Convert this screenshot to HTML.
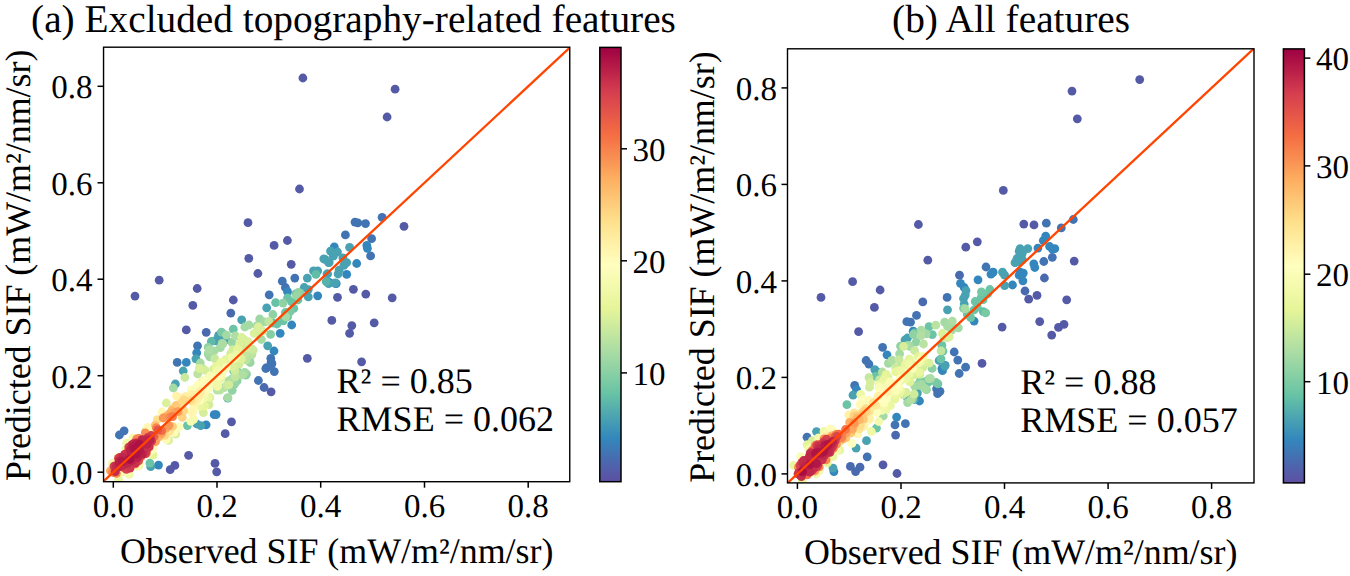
<!DOCTYPE html>
<html><head><meta charset="utf-8"><style>
html,body{margin:0;padding:0;background:#fff;width:1350px;height:576px;overflow:hidden}
svg{position:absolute;left:0;top:0}
text{font-family:"Liberation Serif",serif;fill:#000;text-rendering:geometricPrecision;-webkit-font-smoothing:antialiased}
</style></head><body>
<svg width="1350" height="576" viewBox="0 0 1350 576">
<defs>

<linearGradient id="cg" x1="0" y1="0" x2="0" y2="1"><stop offset="0.00" stop-color="#9e0142"/><stop offset="0.05" stop-color="#b81e48"/><stop offset="0.10" stop-color="#d43d4f"/><stop offset="0.15" stop-color="#e45549"/><stop offset="0.20" stop-color="#f46d43"/><stop offset="0.25" stop-color="#f88c51"/><stop offset="0.30" stop-color="#fdad60"/><stop offset="0.35" stop-color="#fdc776"/><stop offset="0.40" stop-color="#fee08b"/><stop offset="0.45" stop-color="#fff0a6"/><stop offset="0.50" stop-color="#fffebe"/><stop offset="0.55" stop-color="#f3faac"/><stop offset="0.60" stop-color="#e6f598"/><stop offset="0.65" stop-color="#c8e99e"/><stop offset="0.70" stop-color="#aadca4"/><stop offset="0.75" stop-color="#89d0a4"/><stop offset="0.80" stop-color="#66c2a5"/><stop offset="0.85" stop-color="#4ba4b1"/><stop offset="0.90" stop-color="#3387bc"/><stop offset="0.95" stop-color="#496aaf"/><stop offset="1.00" stop-color="#5e4fa2"/></linearGradient>
<clipPath id="clipa"><rect x="103.55" y="47.2" width="466.2" height="434.5"/></clipPath>
<clipPath id="clipb"><rect x="787.5" y="48.8" width="466.5" height="434.1"/></clipPath>
</defs>
<g clip-path="url(#clipa)">
<circle cx="302.9" cy="78.0" r="4.4" fill="#555aa7"/>
<circle cx="395.1" cy="89.2" r="4.4" fill="#555aa7"/>
<circle cx="387.1" cy="117.0" r="4.4" fill="#555aa7"/>
<circle cx="299.5" cy="189.0" r="4.4" fill="#555aa7"/>
<circle cx="248.0" cy="222.7" r="4.4" fill="#555aa7"/>
<circle cx="274.1" cy="245.4" r="4.4" fill="#555aa7"/>
<circle cx="287.4" cy="240.5" r="4.4" fill="#555aa7"/>
<circle cx="248.8" cy="258.3" r="4.4" fill="#555aa7"/>
<circle cx="291.2" cy="264.3" r="4.4" fill="#555aa7"/>
<circle cx="404.0" cy="226.3" r="4.4" fill="#555aa7"/>
<circle cx="353.4" cy="289.3" r="4.4" fill="#555aa7"/>
<circle cx="365.8" cy="294.1" r="4.4" fill="#555aa7"/>
<circle cx="337.5" cy="297.3" r="4.4" fill="#555aa7"/>
<circle cx="392.2" cy="297.8" r="4.4" fill="#555aa7"/>
<circle cx="331.8" cy="320.4" r="4.4" fill="#555aa7"/>
<circle cx="351.8" cy="325.6" r="4.4" fill="#555aa7"/>
<circle cx="349.6" cy="333.3" r="4.4" fill="#555aa7"/>
<circle cx="374.2" cy="322.8" r="4.4" fill="#555aa7"/>
<circle cx="361.6" cy="361.8" r="4.4" fill="#555aa7"/>
<circle cx="257.9" cy="273.5" r="4.4" fill="#555aa7"/>
<circle cx="233.3" cy="300.0" r="4.4" fill="#555aa7"/>
<circle cx="307.3" cy="358.3" r="4.4" fill="#555aa7"/>
<circle cx="135.0" cy="296.1" r="4.4" fill="#555aa7"/>
<circle cx="159.2" cy="280.2" r="4.4" fill="#555aa7"/>
<circle cx="197.2" cy="288.5" r="4.4" fill="#555aa7"/>
<circle cx="192.8" cy="305.4" r="4.4" fill="#555aa7"/>
<circle cx="186.3" cy="329.9" r="4.4" fill="#555aa7"/>
<circle cx="271.1" cy="391.8" r="4.4" fill="#555aa7"/>
<circle cx="231.5" cy="421.8" r="4.4" fill="#555aa7"/>
<circle cx="225.2" cy="433.7" r="4.4" fill="#555aa7"/>
<circle cx="215.0" cy="463.4" r="4.4" fill="#555aa7"/>
<circle cx="216.7" cy="471.8" r="4.4" fill="#555aa7"/>
<circle cx="170.2" cy="469.7" r="4.4" fill="#555aa7"/>
<circle cx="174.9" cy="465.4" r="4.4" fill="#555aa7"/>
<circle cx="188.6" cy="455.3" r="4.4" fill="#555aa7"/>
<circle cx="230.8" cy="313.1" r="4.4" fill="#496aaf"/>
<circle cx="206.2" cy="332.3" r="4.4" fill="#496aaf"/>
<circle cx="264.1" cy="387.5" r="4.4" fill="#496aaf"/>
<circle cx="382.1" cy="217.3" r="4.4" fill="#4273b3"/>
<circle cx="355.0" cy="222.1" r="4.4" fill="#4273b3"/>
<circle cx="357.8" cy="222.8" r="4.4" fill="#4273b3"/>
<circle cx="365.5" cy="223.6" r="4.4" fill="#4273b3"/>
<circle cx="345.4" cy="234.9" r="4.4" fill="#4273b3"/>
<circle cx="371.6" cy="238.7" r="4.4" fill="#4273b3"/>
<circle cx="370.6" cy="255.9" r="4.4" fill="#4273b3"/>
<circle cx="294.8" cy="278.1" r="4.4" fill="#4273b3"/>
<circle cx="282.3" cy="281.2" r="4.4" fill="#4273b3"/>
<circle cx="285.4" cy="287.5" r="4.4" fill="#4273b3"/>
<circle cx="269.2" cy="294.8" r="4.4" fill="#4273b3"/>
<circle cx="270.8" cy="358.3" r="4.4" fill="#4273b3"/>
<circle cx="271.9" cy="363.5" r="4.4" fill="#4273b3"/>
<circle cx="266.7" cy="367.7" r="4.4" fill="#4273b3"/>
<circle cx="197.5" cy="345.8" r="4.4" fill="#4273b3"/>
<circle cx="177.2" cy="362.4" r="4.4" fill="#4273b3"/>
<circle cx="271.1" cy="362.1" r="4.4" fill="#4273b3"/>
<circle cx="265.8" cy="368.5" r="4.4" fill="#4273b3"/>
<circle cx="274.3" cy="371.6" r="4.4" fill="#4273b3"/>
<circle cx="271.1" cy="365.3" r="4.4" fill="#4273b3"/>
<circle cx="258.4" cy="380.5" r="4.4" fill="#4273b3"/>
<circle cx="119.4" cy="435.0" r="4.4" fill="#4273b3"/>
<circle cx="124.1" cy="430.8" r="4.4" fill="#4273b3"/>
<circle cx="366.8" cy="245.4" r="4.4" fill="#3387bc"/>
<circle cx="367.4" cy="248.3" r="4.4" fill="#3387bc"/>
<circle cx="334.3" cy="246.9" r="4.4" fill="#3387bc"/>
<circle cx="356.7" cy="263.5" r="4.4" fill="#3387bc"/>
<circle cx="346.7" cy="274.4" r="4.4" fill="#3387bc"/>
<circle cx="336.2" cy="283.6" r="4.4" fill="#3387bc"/>
<circle cx="287.5" cy="291.7" r="4.4" fill="#3387bc"/>
<circle cx="329.2" cy="282.3" r="4.4" fill="#3387bc"/>
<circle cx="335.4" cy="283.3" r="4.4" fill="#3387bc"/>
<circle cx="317.7" cy="295.8" r="4.4" fill="#3387bc"/>
<circle cx="291.7" cy="325.0" r="4.4" fill="#3387bc"/>
<circle cx="280.2" cy="333.3" r="4.4" fill="#3387bc"/>
<circle cx="221.9" cy="333.3" r="4.4" fill="#3387bc"/>
<circle cx="218.8" cy="335.4" r="4.4" fill="#3387bc"/>
<circle cx="274.0" cy="351.0" r="4.4" fill="#3387bc"/>
<circle cx="196.7" cy="352.8" r="4.4" fill="#3387bc"/>
<circle cx="186.3" cy="362.4" r="4.4" fill="#3387bc"/>
<circle cx="216.1" cy="414.6" r="4.4" fill="#3387bc"/>
<circle cx="158.5" cy="465.1" r="4.4" fill="#3387bc"/>
<circle cx="206.1" cy="424.8" r="4.4" fill="#3387bc"/>
<circle cx="214.2" cy="414.7" r="4.4" fill="#3387bc"/>
<circle cx="330.5" cy="251.1" r="4.4" fill="#49a2b2"/>
<circle cx="349.6" cy="247.3" r="4.4" fill="#49a2b2"/>
<circle cx="323.8" cy="258.8" r="4.4" fill="#49a2b2"/>
<circle cx="328.6" cy="262.6" r="4.4" fill="#49a2b2"/>
<circle cx="342.9" cy="257.8" r="4.4" fill="#49a2b2"/>
<circle cx="346.7" cy="262.6" r="4.4" fill="#49a2b2"/>
<circle cx="343.9" cy="265.4" r="4.4" fill="#49a2b2"/>
<circle cx="339.1" cy="270.2" r="4.4" fill="#49a2b2"/>
<circle cx="338.1" cy="274.0" r="4.4" fill="#49a2b2"/>
<circle cx="327.6" cy="274.0" r="4.4" fill="#49a2b2"/>
<circle cx="328.6" cy="283.6" r="4.4" fill="#49a2b2"/>
<circle cx="335.3" cy="282.8" r="4.4" fill="#49a2b2"/>
<circle cx="266.7" cy="307.9" r="4.4" fill="#49a2b2"/>
<circle cx="307.3" cy="278.1" r="4.4" fill="#49a2b2"/>
<circle cx="313.5" cy="270.8" r="4.4" fill="#49a2b2"/>
<circle cx="317.7" cy="270.8" r="4.4" fill="#49a2b2"/>
<circle cx="325.0" cy="259.4" r="4.4" fill="#49a2b2"/>
<circle cx="329.2" cy="262.5" r="4.4" fill="#49a2b2"/>
<circle cx="333.3" cy="256.2" r="4.4" fill="#49a2b2"/>
<circle cx="337.5" cy="252.0" r="4.4" fill="#49a2b2"/>
<circle cx="327.0" cy="274.0" r="4.4" fill="#49a2b2"/>
<circle cx="304.2" cy="287.5" r="4.4" fill="#49a2b2"/>
<circle cx="308.3" cy="289.6" r="4.4" fill="#49a2b2"/>
<circle cx="308.3" cy="296.9" r="4.4" fill="#49a2b2"/>
<circle cx="241.7" cy="319.8" r="4.4" fill="#49a2b2"/>
<circle cx="215.6" cy="340.6" r="4.4" fill="#49a2b2"/>
<circle cx="226.0" cy="339.6" r="4.4" fill="#49a2b2"/>
<circle cx="267.7" cy="345.8" r="4.4" fill="#49a2b2"/>
<circle cx="195.9" cy="358.8" r="4.4" fill="#49a2b2"/>
<circle cx="183.2" cy="371.0" r="4.4" fill="#49a2b2"/>
<circle cx="175.4" cy="384.0" r="4.4" fill="#49a2b2"/>
<circle cx="218.8" cy="335.9" r="4.4" fill="#49a2b2"/>
<circle cx="217.5" cy="341.1" r="4.4" fill="#49a2b2"/>
<circle cx="221.4" cy="333.3" r="4.4" fill="#49a2b2"/>
<circle cx="227.7" cy="398.1" r="4.4" fill="#49a2b2"/>
<circle cx="150.7" cy="466.7" r="4.4" fill="#49a2b2"/>
<circle cx="196.8" cy="424.0" r="4.4" fill="#49a2b2"/>
<circle cx="200.7" cy="425.6" r="4.4" fill="#49a2b2"/>
<circle cx="326.2" cy="281.6" r="4.4" fill="#58b2ac"/>
<circle cx="211.3" cy="341.5" r="4.4" fill="#5eb9a9"/>
<circle cx="315.9" cy="274.4" r="4.4" fill="#62bda7"/>
<circle cx="275.6" cy="302.6" r="4.4" fill="#66c2a5"/>
<circle cx="295.8" cy="293.8" r="4.4" fill="#6bc4a5"/>
<circle cx="297.9" cy="300.0" r="4.4" fill="#6bc4a5"/>
<circle cx="291.7" cy="302.0" r="4.4" fill="#6bc4a5"/>
<circle cx="293.8" cy="308.3" r="4.4" fill="#6bc4a5"/>
<circle cx="287.5" cy="298.0" r="4.4" fill="#6bc4a5"/>
<circle cx="285.4" cy="312.5" r="4.4" fill="#6bc4a5"/>
<circle cx="287.5" cy="316.7" r="4.4" fill="#6bc4a5"/>
<circle cx="283.3" cy="320.8" r="4.4" fill="#6bc4a5"/>
<circle cx="277.0" cy="324.0" r="4.4" fill="#6bc4a5"/>
<circle cx="273.0" cy="323.0" r="4.4" fill="#6bc4a5"/>
<circle cx="233.3" cy="329.2" r="4.4" fill="#6bc4a5"/>
<circle cx="208.4" cy="354.1" r="4.4" fill="#6bc4a5"/>
<circle cx="149.9" cy="463.1" r="4.4" fill="#6bc4a5"/>
<circle cx="187.4" cy="425.6" r="4.4" fill="#6bc4a5"/>
<circle cx="221.5" cy="332.1" r="4.4" fill="#7ccaa5"/>
<circle cx="290.0" cy="311.7" r="4.4" fill="#7ccaa5"/>
<circle cx="234.2" cy="384.5" r="4.4" fill="#7ecca5"/>
<circle cx="233.6" cy="370.9" r="4.4" fill="#81cda5"/>
<circle cx="245.7" cy="375.1" r="4.4" fill="#84cea5"/>
<circle cx="270.6" cy="334.4" r="4.4" fill="#86cfa5"/>
<circle cx="300.1" cy="293.1" r="4.4" fill="#89d0a4"/>
<circle cx="246.5" cy="374.1" r="4.4" fill="#8fd2a4"/>
<circle cx="208.2" cy="347.3" r="4.4" fill="#8fd2a4"/>
<circle cx="272.9" cy="314.5" r="4.4" fill="#8fd2a4"/>
<circle cx="283.0" cy="303.1" r="4.4" fill="#8fd2a4"/>
<circle cx="233.4" cy="384.4" r="4.4" fill="#8fd2a4"/>
<circle cx="245.5" cy="374.0" r="4.4" fill="#91d3a4"/>
<circle cx="236.7" cy="370.0" r="4.4" fill="#91d3a4"/>
<circle cx="298.4" cy="292.4" r="4.4" fill="#91d3a4"/>
<circle cx="237.1" cy="380.9" r="4.4" fill="#91d3a4"/>
<circle cx="232.2" cy="390.3" r="4.4" fill="#91d3a4"/>
<circle cx="232.0" cy="342.3" r="4.4" fill="#97d5a4"/>
<circle cx="234.9" cy="383.2" r="4.4" fill="#97d5a4"/>
<circle cx="296.6" cy="295.7" r="4.4" fill="#99d6a4"/>
<circle cx="250.2" cy="362.5" r="4.4" fill="#99d6a4"/>
<circle cx="210.7" cy="352.7" r="4.4" fill="#99d6a4"/>
<circle cx="249.4" cy="359.8" r="4.4" fill="#9cd7a4"/>
<circle cx="259.7" cy="319.0" r="4.4" fill="#9cd7a4"/>
<circle cx="209.8" cy="356.8" r="4.4" fill="#9fd8a4"/>
<circle cx="226.5" cy="335.1" r="4.4" fill="#a2d9a4"/>
<circle cx="211.4" cy="352.7" r="4.4" fill="#a2d9a4"/>
<circle cx="264.6" cy="321.9" r="4.4" fill="#a4daa4"/>
<circle cx="249.0" cy="325.0" r="4.4" fill="#a4daa4"/>
<circle cx="244.8" cy="327.0" r="4.4" fill="#a4daa4"/>
<circle cx="208.3" cy="353.1" r="4.4" fill="#a4daa4"/>
<circle cx="173.3" cy="388.0" r="4.4" fill="#a4daa4"/>
<circle cx="244.6" cy="372.3" r="4.4" fill="#a4daa4"/>
<circle cx="237.3" cy="374.0" r="4.4" fill="#a4daa4"/>
<circle cx="285.8" cy="316.8" r="4.4" fill="#a4daa4"/>
<circle cx="220.3" cy="347.7" r="4.4" fill="#a4daa4"/>
<circle cx="214.1" cy="350.9" r="4.4" fill="#a7dba4"/>
<circle cx="261.4" cy="339.5" r="4.4" fill="#a7dba4"/>
<circle cx="200.3" cy="363.0" r="4.4" fill="#a7dba4"/>
<circle cx="227.9" cy="397.7" r="4.4" fill="#a7dba4"/>
<circle cx="257.0" cy="325.7" r="4.4" fill="#a7dba4"/>
<circle cx="222.1" cy="343.4" r="4.4" fill="#a7dba4"/>
<circle cx="258.8" cy="326.2" r="4.4" fill="#aadca4"/>
<circle cx="228.9" cy="380.8" r="4.4" fill="#aadca4"/>
<circle cx="222.8" cy="343.8" r="4.4" fill="#aadca4"/>
<circle cx="209.2" cy="349.8" r="4.4" fill="#acdda4"/>
<circle cx="241.0" cy="338.3" r="4.4" fill="#aedea3"/>
<circle cx="231.9" cy="378.8" r="4.4" fill="#b1dfa3"/>
<circle cx="235.4" cy="335.9" r="4.4" fill="#b1dfa3"/>
<circle cx="242.5" cy="375.0" r="4.4" fill="#b1dfa3"/>
<circle cx="224.0" cy="387.7" r="4.4" fill="#b5e1a2"/>
<circle cx="220.1" cy="390.0" r="4.4" fill="#bae3a1"/>
<circle cx="217.3" cy="390.2" r="4.4" fill="#bae3a1"/>
<circle cx="246.2" cy="360.0" r="4.4" fill="#bce4a0"/>
<circle cx="197.7" cy="373.8" r="4.4" fill="#bce4a0"/>
<circle cx="251.9" cy="354.6" r="4.4" fill="#bce4a0"/>
<circle cx="235.3" cy="376.9" r="4.4" fill="#c1e6a0"/>
<circle cx="258.6" cy="333.0" r="4.4" fill="#c1e6a0"/>
<circle cx="268.8" cy="321.3" r="4.4" fill="#c1e6a0"/>
<circle cx="202.6" cy="368.6" r="4.4" fill="#c3e79f"/>
<circle cx="253.1" cy="350.3" r="4.4" fill="#c3e79f"/>
<circle cx="245.2" cy="352.7" r="4.4" fill="#c3e79f"/>
<circle cx="214.7" cy="358.7" r="4.4" fill="#c6e89f"/>
<circle cx="227.0" cy="385.1" r="4.4" fill="#c8e99e"/>
<circle cx="243.5" cy="339.4" r="4.4" fill="#c8e99e"/>
<circle cx="184.8" cy="377.5" r="4.4" fill="#c8e99e"/>
<circle cx="252.0" cy="348.8" r="4.4" fill="#cdeb9d"/>
<circle cx="235.1" cy="350.1" r="4.4" fill="#cfec9d"/>
<circle cx="235.0" cy="370.9" r="4.4" fill="#cfec9d"/>
<circle cx="228.9" cy="384.8" r="4.4" fill="#d1ed9c"/>
<circle cx="232.8" cy="349.7" r="4.4" fill="#d1ed9c"/>
<circle cx="209.0" cy="404.7" r="4.4" fill="#d3ed9c"/>
<circle cx="246.3" cy="347.6" r="4.4" fill="#d3ed9c"/>
<circle cx="239.1" cy="364.2" r="4.4" fill="#d3ed9c"/>
<circle cx="205.2" cy="370.4" r="4.4" fill="#d6ee9b"/>
<circle cx="230.6" cy="353.7" r="4.4" fill="#d6ee9b"/>
<circle cx="203.4" cy="412.7" r="4.4" fill="#d6ee9b"/>
<circle cx="213.7" cy="369.1" r="4.4" fill="#d6ee9b"/>
<circle cx="239.2" cy="357.3" r="4.4" fill="#d6ee9b"/>
<circle cx="209.8" cy="397.5" r="4.4" fill="#d8ef9b"/>
<circle cx="232.9" cy="366.8" r="4.4" fill="#daf09a"/>
<circle cx="216.4" cy="385.7" r="4.4" fill="#daf09a"/>
<circle cx="258.3" cy="327.0" r="4.4" fill="#daf09a"/>
<circle cx="254.2" cy="333.3" r="4.4" fill="#daf09a"/>
<circle cx="262.5" cy="331.2" r="4.4" fill="#daf09a"/>
<circle cx="241.7" cy="337.5" r="4.4" fill="#daf09a"/>
<circle cx="239.6" cy="343.8" r="4.4" fill="#daf09a"/>
<circle cx="248.0" cy="341.7" r="4.4" fill="#daf09a"/>
<circle cx="199.3" cy="368.4" r="4.4" fill="#daf09a"/>
<circle cx="166.3" cy="403.0" r="4.4" fill="#daf09a"/>
<circle cx="175.7" cy="434.2" r="4.4" fill="#daf09a"/>
<circle cx="168.6" cy="440.4" r="4.4" fill="#daf09a"/>
<circle cx="241.3" cy="359.0" r="4.4" fill="#dff299"/>
<circle cx="145.6" cy="430.9" r="4.4" fill="#dff299"/>
<circle cx="216.0" cy="369.5" r="4.4" fill="#e1f399"/>
<circle cx="225.7" cy="359.7" r="4.4" fill="#e4f498"/>
<circle cx="153.2" cy="455.1" r="4.4" fill="#e4f498"/>
<circle cx="139.0" cy="465.6" r="4.4" fill="#e7f59a"/>
<circle cx="237.5" cy="349.5" r="4.4" fill="#e7f59a"/>
<circle cx="204.5" cy="406.0" r="4.4" fill="#e8f69b"/>
<circle cx="216.1" cy="368.6" r="4.4" fill="#e8f69b"/>
<circle cx="217.3" cy="384.6" r="4.4" fill="#e8f69b"/>
<circle cx="222.0" cy="366.1" r="4.4" fill="#e8f69b"/>
<circle cx="217.5" cy="379.0" r="4.4" fill="#e8f69b"/>
<circle cx="220.6" cy="378.3" r="4.4" fill="#e9f69d"/>
<circle cx="223.0" cy="362.3" r="4.4" fill="#e9f69d"/>
<circle cx="217.4" cy="386.5" r="4.4" fill="#e9f69d"/>
<circle cx="215.9" cy="366.6" r="4.4" fill="#e9f69d"/>
<circle cx="217.1" cy="378.0" r="4.4" fill="#eaf79e"/>
<circle cx="220.6" cy="362.6" r="4.4" fill="#eaf79e"/>
<circle cx="199.6" cy="406.5" r="4.4" fill="#ebf7a0"/>
<circle cx="208.4" cy="397.1" r="4.4" fill="#ecf7a1"/>
<circle cx="122.6" cy="471.9" r="4.4" fill="#ecf7a1"/>
<circle cx="232.1" cy="358.2" r="4.4" fill="#ecf7a1"/>
<circle cx="118.7" cy="479.4" r="4.4" fill="#ecf7a1"/>
<circle cx="236.2" cy="356.0" r="4.4" fill="#edf8a3"/>
<circle cx="215.4" cy="382.0" r="4.4" fill="#eef8a4"/>
<circle cx="236.2" cy="355.1" r="4.4" fill="#eef8a4"/>
<circle cx="125.8" cy="449.4" r="4.4" fill="#eef8a4"/>
<circle cx="126.7" cy="443.3" r="4.4" fill="#eff9a6"/>
<circle cx="217.9" cy="370.0" r="4.4" fill="#eff9a6"/>
<circle cx="129.8" cy="443.5" r="4.4" fill="#eff9a6"/>
<circle cx="234.5" cy="358.3" r="4.4" fill="#eff9a6"/>
<circle cx="125.0" cy="471.9" r="4.4" fill="#eff9a6"/>
<circle cx="152.9" cy="429.6" r="4.4" fill="#eff9a6"/>
<circle cx="127.3" cy="443.1" r="4.4" fill="#eff9a6"/>
<circle cx="152.9" cy="446.7" r="4.4" fill="#eff9a6"/>
<circle cx="113.9" cy="466.7" r="4.4" fill="#f0f9a7"/>
<circle cx="231.9" cy="357.4" r="4.4" fill="#f0f9a7"/>
<circle cx="202.2" cy="381.0" r="4.4" fill="#f0f9a7"/>
<circle cx="149.2" cy="434.4" r="4.4" fill="#f0f9a7"/>
<circle cx="217.6" cy="385.6" r="4.4" fill="#f1f9a9"/>
<circle cx="129.3" cy="474.3" r="4.4" fill="#f1f9a9"/>
<circle cx="112.5" cy="463.9" r="4.4" fill="#f1f9a9"/>
<circle cx="130.0" cy="466.7" r="4.4" fill="#f2faaa"/>
<circle cx="116.8" cy="463.7" r="4.4" fill="#f2faaa"/>
<circle cx="209.8" cy="376.0" r="4.4" fill="#f2faaa"/>
<circle cx="112.5" cy="463.5" r="4.4" fill="#f2faaa"/>
<circle cx="221.3" cy="375.7" r="4.4" fill="#f2faaa"/>
<circle cx="126.8" cy="468.0" r="4.4" fill="#f2faaa"/>
<circle cx="132.1" cy="443.6" r="4.4" fill="#f2faaa"/>
<circle cx="203.8" cy="397.9" r="4.4" fill="#f2faaa"/>
<circle cx="216.4" cy="373.2" r="4.4" fill="#f3faac"/>
<circle cx="205.9" cy="380.6" r="4.4" fill="#f3faac"/>
<circle cx="137.4" cy="442.8" r="4.4" fill="#f3faac"/>
<circle cx="120.0" cy="471.5" r="4.4" fill="#f4faad"/>
<circle cx="210.2" cy="381.1" r="4.4" fill="#f4faad"/>
<circle cx="190.8" cy="421.3" r="4.4" fill="#f6fbb0"/>
<circle cx="193.6" cy="419.3" r="4.4" fill="#f6fbb0"/>
<circle cx="132.9" cy="437.8" r="4.4" fill="#f6fbb0"/>
<circle cx="125.9" cy="452.7" r="4.4" fill="#f6fbb0"/>
<circle cx="139.3" cy="463.3" r="4.4" fill="#f6fbb0"/>
<circle cx="137.5" cy="460.0" r="4.4" fill="#f6fbb0"/>
<circle cx="215.6" cy="376.1" r="4.4" fill="#f7fcb2"/>
<circle cx="207.3" cy="389.2" r="4.4" fill="#f7fcb2"/>
<circle cx="136.5" cy="438.5" r="4.4" fill="#f7fcb2"/>
<circle cx="119.8" cy="460.8" r="4.4" fill="#f7fcb2"/>
<circle cx="140.8" cy="454.7" r="4.4" fill="#f8fcb4"/>
<circle cx="137.0" cy="466.4" r="4.4" fill="#f8fcb4"/>
<circle cx="135.5" cy="461.8" r="4.4" fill="#f8fcb4"/>
<circle cx="222.2" cy="372.5" r="4.4" fill="#f8fcb4"/>
<circle cx="210.1" cy="376.5" r="4.4" fill="#f9fcb5"/>
<circle cx="226.0" cy="367.9" r="4.4" fill="#f9fcb5"/>
<circle cx="127.3" cy="471.2" r="4.4" fill="#f9fcb5"/>
<circle cx="219.0" cy="376.9" r="4.4" fill="#f9fcb5"/>
<circle cx="148.1" cy="453.6" r="4.4" fill="#f9fcb5"/>
<circle cx="132.6" cy="444.5" r="4.4" fill="#f9fcb5"/>
<circle cx="204.5" cy="392.5" r="4.4" fill="#f9fcb5"/>
<circle cx="118.2" cy="456.8" r="4.4" fill="#f9fcb5"/>
<circle cx="120.8" cy="470.1" r="4.4" fill="#fafdb7"/>
<circle cx="208.1" cy="388.2" r="4.4" fill="#fafdb7"/>
<circle cx="194.1" cy="410.6" r="4.4" fill="#fafdb7"/>
<circle cx="191.1" cy="389.9" r="4.4" fill="#fbfdb8"/>
<circle cx="122.4" cy="461.3" r="4.4" fill="#fbfdb8"/>
<circle cx="198.2" cy="387.1" r="4.4" fill="#fcfeba"/>
<circle cx="196.5" cy="387.7" r="4.4" fill="#fcfeba"/>
<circle cx="124.9" cy="463.9" r="4.4" fill="#fcfeba"/>
<circle cx="197.8" cy="385.2" r="4.4" fill="#fcfeba"/>
<circle cx="129.9" cy="450.9" r="4.4" fill="#fcfeba"/>
<circle cx="208.4" cy="385.2" r="4.4" fill="#fdfebb"/>
<circle cx="127.9" cy="461.9" r="4.4" fill="#fdfebb"/>
<circle cx="199.7" cy="400.3" r="4.4" fill="#fdfebb"/>
<circle cx="205.7" cy="387.3" r="4.4" fill="#fdfebb"/>
<circle cx="152.3" cy="449.5" r="4.4" fill="#fefebd"/>
<circle cx="125.8" cy="468.8" r="4.4" fill="#fefebd"/>
<circle cx="126.0" cy="455.2" r="4.4" fill="#fefebd"/>
<circle cx="204.2" cy="381.3" r="4.4" fill="#fefebd"/>
<circle cx="129.9" cy="452.3" r="4.4" fill="#ffffbe"/>
<circle cx="143.7" cy="449.9" r="4.4" fill="#ffffbe"/>
<circle cx="141.4" cy="454.1" r="4.4" fill="#ffffbe"/>
<circle cx="130.0" cy="456.8" r="4.4" fill="#ffffbe"/>
<circle cx="129.7" cy="456.3" r="4.4" fill="#fffebe"/>
<circle cx="201.3" cy="386.0" r="4.4" fill="#fffdbc"/>
<circle cx="203.3" cy="386.3" r="4.4" fill="#fffdbc"/>
<circle cx="192.1" cy="410.8" r="4.4" fill="#fffdbc"/>
<circle cx="174.0" cy="432.2" r="4.4" fill="#fffcba"/>
<circle cx="196.5" cy="399.8" r="4.4" fill="#fffcba"/>
<circle cx="178.9" cy="426.9" r="4.4" fill="#fffbb8"/>
<circle cx="166.2" cy="439.3" r="4.4" fill="#fffab6"/>
<circle cx="152.3" cy="447.4" r="4.4" fill="#fffab6"/>
<circle cx="207.1" cy="383.6" r="4.4" fill="#fffab6"/>
<circle cx="134.7" cy="457.3" r="4.4" fill="#fffab6"/>
<circle cx="131.2" cy="457.3" r="4.4" fill="#fff8b4"/>
<circle cx="133.3" cy="453.8" r="4.4" fill="#fff7b2"/>
<circle cx="194.2" cy="403.0" r="4.4" fill="#fff7b2"/>
<circle cx="147.5" cy="427.5" r="4.4" fill="#fff7b2"/>
<circle cx="162.0" cy="412.0" r="4.4" fill="#fff7b2"/>
<circle cx="192.1" cy="413.0" r="4.4" fill="#fff6b0"/>
<circle cx="202.0" cy="389.5" r="4.4" fill="#fff6b0"/>
<circle cx="193.7" cy="406.0" r="4.4" fill="#fff6b0"/>
<circle cx="196.1" cy="401.3" r="4.4" fill="#fff5ae"/>
<circle cx="126.5" cy="464.1" r="4.4" fill="#fff5ae"/>
<circle cx="200.7" cy="394.3" r="4.4" fill="#fff5ae"/>
<circle cx="181.0" cy="398.0" r="4.4" fill="#fff5ae"/>
<circle cx="176.5" cy="396.1" r="4.4" fill="#fff3ac"/>
<circle cx="196.0" cy="396.8" r="4.4" fill="#fff2aa"/>
<circle cx="197.4" cy="393.8" r="4.4" fill="#fff1a8"/>
<circle cx="191.5" cy="394.6" r="4.4" fill="#fff1a8"/>
<circle cx="185.6" cy="396.5" r="4.4" fill="#fff0a6"/>
<circle cx="194.6" cy="401.3" r="4.4" fill="#fff0a6"/>
<circle cx="198.1" cy="397.8" r="4.4" fill="#fff0a6"/>
<circle cx="192.4" cy="400.7" r="4.4" fill="#feefa3"/>
<circle cx="200.2" cy="392.1" r="4.4" fill="#feeda1"/>
<circle cx="194.3" cy="397.5" r="4.4" fill="#feec9f"/>
<circle cx="182.1" cy="401.9" r="4.4" fill="#fee999"/>
<circle cx="144.1" cy="445.9" r="4.4" fill="#fee797"/>
<circle cx="169.4" cy="431.4" r="4.4" fill="#fee491"/>
<circle cx="191.0" cy="400.5" r="4.4" fill="#fee08b"/>
<circle cx="157.3" cy="419.6" r="4.4" fill="#fee08b"/>
<circle cx="181.3" cy="403.2" r="4.4" fill="#fede89"/>
<circle cx="178.0" cy="405.0" r="4.4" fill="#fedc88"/>
<circle cx="164.8" cy="435.4" r="4.4" fill="#feda86"/>
<circle cx="183.9" cy="399.8" r="4.4" fill="#feda86"/>
<circle cx="183.8" cy="410.7" r="4.4" fill="#fed884"/>
<circle cx="173.0" cy="408.7" r="4.4" fill="#fed27f"/>
<circle cx="182.3" cy="417.4" r="4.4" fill="#fed27f"/>
<circle cx="172.5" cy="426.5" r="4.4" fill="#fed07e"/>
<circle cx="175.9" cy="405.5" r="4.4" fill="#feca79"/>
<circle cx="143.8" cy="442.0" r="4.4" fill="#fec877"/>
<circle cx="148.2" cy="443.6" r="4.4" fill="#fec877"/>
<circle cx="155.2" cy="425.1" r="4.4" fill="#fec877"/>
<circle cx="146.9" cy="442.9" r="4.4" fill="#fdc372"/>
<circle cx="145.3" cy="437.0" r="4.4" fill="#fdbf6f"/>
<circle cx="145.2" cy="441.0" r="4.4" fill="#fdb96a"/>
<circle cx="145.4" cy="439.0" r="4.4" fill="#fdb96a"/>
<circle cx="171.8" cy="410.7" r="4.4" fill="#fdb96a"/>
<circle cx="159.0" cy="436.8" r="4.4" fill="#fdb768"/>
<circle cx="166.5" cy="416.4" r="4.4" fill="#fdb768"/>
<circle cx="169.2" cy="414.0" r="4.4" fill="#fdb365"/>
<circle cx="110.4" cy="470.9" r="4.4" fill="#fdad60"/>
<circle cx="165.6" cy="417.4" r="4.4" fill="#fcaa5f"/>
<circle cx="165.7" cy="428.4" r="4.4" fill="#fca85e"/>
<circle cx="174.8" cy="412.4" r="4.4" fill="#fca55d"/>
<circle cx="155.5" cy="441.7" r="4.4" fill="#fba05b"/>
<circle cx="161.5" cy="433.7" r="4.4" fill="#fba05b"/>
<circle cx="148.5" cy="436.9" r="4.4" fill="#fa9b58"/>
<circle cx="178.1" cy="411.7" r="4.4" fill="#fa9b58"/>
<circle cx="169.0" cy="417.5" r="4.4" fill="#fa9b58"/>
<circle cx="169.0" cy="425.6" r="4.4" fill="#fa9857"/>
<circle cx="163.1" cy="418.0" r="4.4" fill="#fa9857"/>
<circle cx="154.7" cy="436.0" r="4.4" fill="#f98e52"/>
<circle cx="145.3" cy="432.8" r="4.4" fill="#f98e52"/>
<circle cx="136.7" cy="438.9" r="4.4" fill="#f88c51"/>
<circle cx="170.0" cy="417.0" r="4.4" fill="#f88c51"/>
<circle cx="112.4" cy="472.1" r="4.4" fill="#f88c51"/>
<circle cx="116.4" cy="473.3" r="4.4" fill="#f88950"/>
<circle cx="156.3" cy="427.7" r="4.4" fill="#f8864f"/>
<circle cx="139.0" cy="438.3" r="4.4" fill="#f7844e"/>
<circle cx="172.6" cy="416.7" r="4.4" fill="#f67c4a"/>
<circle cx="114.1" cy="472.7" r="4.4" fill="#f57748"/>
<circle cx="146.3" cy="453.5" r="4.4" fill="#f57547"/>
<circle cx="146.0" cy="452.2" r="4.4" fill="#f57245"/>
<circle cx="135.4" cy="463.8" r="4.4" fill="#f46d43"/>
<circle cx="148.5" cy="443.3" r="4.4" fill="#f46d43"/>
<circle cx="161.6" cy="430.7" r="4.4" fill="#f36b43"/>
<circle cx="148.8" cy="444.4" r="4.4" fill="#f26944"/>
<circle cx="145.6" cy="450.2" r="4.4" fill="#f26944"/>
<circle cx="140.9" cy="456.9" r="4.4" fill="#f06744"/>
<circle cx="116.4" cy="465.3" r="4.4" fill="#ef6645"/>
<circle cx="127.3" cy="452.2" r="4.4" fill="#ef6645"/>
<circle cx="142.9" cy="441.7" r="4.4" fill="#ed6246"/>
<circle cx="121.8" cy="459.6" r="4.4" fill="#ed6246"/>
<circle cx="153.8" cy="436.5" r="4.4" fill="#eb6046"/>
<circle cx="145.3" cy="443.0" r="4.4" fill="#ea5e47"/>
<circle cx="123.4" cy="467.3" r="4.4" fill="#e75948"/>
<circle cx="128.0" cy="455.5" r="4.4" fill="#e75948"/>
<circle cx="157.8" cy="429.9" r="4.4" fill="#e45549"/>
<circle cx="134.4" cy="457.5" r="4.4" fill="#e45549"/>
<circle cx="132.4" cy="461.1" r="4.4" fill="#e3534a"/>
<circle cx="141.0" cy="443.1" r="4.4" fill="#e3534a"/>
<circle cx="121.7" cy="464.3" r="4.4" fill="#e1504b"/>
<circle cx="128.9" cy="461.7" r="4.4" fill="#df4e4b"/>
<circle cx="138.6" cy="460.9" r="4.4" fill="#dd4a4c"/>
<circle cx="125.0" cy="459.8" r="4.4" fill="#dd4a4c"/>
<circle cx="134.8" cy="448.5" r="4.4" fill="#da464d"/>
<circle cx="118.4" cy="458.3" r="4.4" fill="#d9444d"/>
<circle cx="126.4" cy="469.4" r="4.4" fill="#d8434e"/>
<circle cx="150.2" cy="439.5" r="4.4" fill="#d8434e"/>
<circle cx="145.2" cy="452.9" r="4.4" fill="#d7414e"/>
<circle cx="151.2" cy="435.5" r="4.4" fill="#d63f4f"/>
<circle cx="128.8" cy="447.1" r="4.4" fill="#d43d4f"/>
<circle cx="145.3" cy="453.6" r="4.4" fill="#d43d4f"/>
<circle cx="147.6" cy="437.5" r="4.4" fill="#d43d4f"/>
<circle cx="131.7" cy="462.9" r="4.4" fill="#d23a4e"/>
<circle cx="114.0" cy="466.2" r="4.4" fill="#d23a4e"/>
<circle cx="119.6" cy="457.5" r="4.4" fill="#d23a4e"/>
<circle cx="134.2" cy="445.1" r="4.4" fill="#d23a4e"/>
<circle cx="146.1" cy="450.8" r="4.4" fill="#d0384e"/>
<circle cx="151.6" cy="441.1" r="4.4" fill="#d0384e"/>
<circle cx="147.4" cy="439.9" r="4.4" fill="#d0384e"/>
<circle cx="134.5" cy="442.8" r="4.4" fill="#d0384e"/>
<circle cx="146.7" cy="449.2" r="4.4" fill="#d0384e"/>
<circle cx="130.1" cy="468.1" r="4.4" fill="#d0384e"/>
<circle cx="132.8" cy="444.3" r="4.4" fill="#cd364d"/>
<circle cx="149.3" cy="446.8" r="4.4" fill="#cb334d"/>
<circle cx="135.1" cy="463.1" r="4.4" fill="#cb334d"/>
<circle cx="135.3" cy="462.6" r="4.4" fill="#c9314c"/>
<circle cx="124.6" cy="454.3" r="4.4" fill="#c9314c"/>
<circle cx="139.6" cy="448.7" r="4.4" fill="#c72e4c"/>
<circle cx="136.3" cy="457.0" r="4.4" fill="#c72e4c"/>
<circle cx="143.9" cy="449.6" r="4.4" fill="#c72e4c"/>
<circle cx="127.3" cy="462.0" r="4.4" fill="#c72e4c"/>
<circle cx="148.0" cy="438.9" r="4.4" fill="#c72e4c"/>
<circle cx="132.6" cy="444.6" r="4.4" fill="#c52c4b"/>
<circle cx="116.4" cy="465.8" r="4.4" fill="#c52c4b"/>
<circle cx="115.3" cy="471.7" r="4.4" fill="#c52c4b"/>
<circle cx="121.8" cy="461.6" r="4.4" fill="#c52c4b"/>
<circle cx="122.1" cy="466.1" r="4.4" fill="#c52c4b"/>
<circle cx="142.1" cy="439.6" r="4.4" fill="#c32a4b"/>
<circle cx="131.9" cy="444.8" r="4.4" fill="#c32a4b"/>
<circle cx="123.2" cy="464.7" r="4.4" fill="#c32a4b"/>
<circle cx="146.3" cy="441.2" r="4.4" fill="#c32a4b"/>
<circle cx="118.7" cy="466.8" r="4.4" fill="#c32a4b"/>
<circle cx="124.6" cy="458.2" r="4.4" fill="#c32a4b"/>
<circle cx="118.8" cy="466.1" r="4.4" fill="#c1274a"/>
<circle cx="142.1" cy="440.4" r="4.4" fill="#c1274a"/>
<circle cx="122.7" cy="457.3" r="4.4" fill="#c1274a"/>
<circle cx="145.7" cy="440.8" r="4.4" fill="#be254a"/>
<circle cx="138.0" cy="442.9" r="4.4" fill="#be254a"/>
<circle cx="123.1" cy="460.1" r="4.4" fill="#be254a"/>
<circle cx="125.1" cy="460.2" r="4.4" fill="#be254a"/>
<circle cx="143.5" cy="440.8" r="4.4" fill="#be254a"/>
<circle cx="132.2" cy="460.5" r="4.4" fill="#be254a"/>
<circle cx="127.5" cy="463.4" r="4.4" fill="#be254a"/>
<circle cx="138.2" cy="455.1" r="4.4" fill="#bc2249"/>
<circle cx="147.0" cy="444.4" r="4.4" fill="#bc2249"/>
<circle cx="130.1" cy="450.0" r="4.4" fill="#bc2249"/>
<circle cx="150.1" cy="439.8" r="4.4" fill="#bc2249"/>
<circle cx="119.3" cy="461.4" r="4.4" fill="#ba2049"/>
<circle cx="131.5" cy="453.3" r="4.4" fill="#ba2049"/>
<circle cx="142.1" cy="454.3" r="4.4" fill="#ba2049"/>
<circle cx="137.7" cy="457.5" r="4.4" fill="#ba2049"/>
<circle cx="133.7" cy="448.8" r="4.4" fill="#ba2049"/>
<circle cx="137.4" cy="449.5" r="4.4" fill="#b81e48"/>
<circle cx="135.7" cy="444.0" r="4.4" fill="#b81e48"/>
<circle cx="119.2" cy="463.1" r="4.4" fill="#b81e48"/>
<circle cx="139.6" cy="450.4" r="4.4" fill="#b41947"/>
<circle cx="133.0" cy="446.3" r="4.4" fill="#b41947"/>
<circle cx="122.7" cy="461.5" r="4.4" fill="#b11747"/>
<circle cx="134.2" cy="449.1" r="4.4" fill="#af1446"/>
<circle cx="135.3" cy="448.5" r="4.4" fill="#ad1246"/>
<circle cx="136.4" cy="454.1" r="4.4" fill="#ad1246"/>
<circle cx="139.6" cy="444.1" r="4.4" fill="#ad1246"/>
<circle cx="129.9" cy="459.4" r="4.4" fill="#a90d45"/>
<line x1="103.55" y1="481.3" x2="569.8" y2="47.6" stroke="#ff4500" stroke-width="2.3"/>
</g>
<rect x="103.55" y="47.2" width="466.2" height="434.5" fill="none" stroke="#000" stroke-width="1.4"/>
<line x1="113.3" y1="481.7" x2="113.3" y2="487.7" stroke="#000" stroke-width="1.5"/>
<line x1="97.5" y1="472.2" x2="103.55" y2="472.2" stroke="#000" stroke-width="1.5"/>
<text x="113.3" y="516.6" font-size="33" text-anchor="middle">0.0</text>
<text x="92.5" y="484.2" font-size="33" text-anchor="end">0.0</text>
<line x1="217.0" y1="481.7" x2="217.0" y2="487.7" stroke="#000" stroke-width="1.5"/>
<line x1="97.5" y1="375.7" x2="103.55" y2="375.7" stroke="#000" stroke-width="1.5"/>
<text x="217.0" y="516.6" font-size="33" text-anchor="middle">0.2</text>
<text x="92.5" y="387.7" font-size="33" text-anchor="end">0.2</text>
<line x1="320.7" y1="481.7" x2="320.7" y2="487.7" stroke="#000" stroke-width="1.5"/>
<line x1="97.5" y1="279.2" x2="103.55" y2="279.2" stroke="#000" stroke-width="1.5"/>
<text x="320.7" y="516.6" font-size="33" text-anchor="middle">0.4</text>
<text x="92.5" y="291.2" font-size="33" text-anchor="end">0.4</text>
<line x1="424.5" y1="481.7" x2="424.5" y2="487.7" stroke="#000" stroke-width="1.5"/>
<line x1="97.5" y1="182.8" x2="103.55" y2="182.8" stroke="#000" stroke-width="1.5"/>
<text x="424.5" y="516.6" font-size="33" text-anchor="middle">0.6</text>
<text x="92.5" y="194.8" font-size="33" text-anchor="end">0.6</text>
<line x1="528.2" y1="481.7" x2="528.2" y2="487.7" stroke="#000" stroke-width="1.5"/>
<line x1="97.5" y1="86.3" x2="103.55" y2="86.3" stroke="#000" stroke-width="1.5"/>
<text x="528.2" y="516.6" font-size="33" text-anchor="middle">0.8</text>
<text x="92.5" y="98.3" font-size="33" text-anchor="end">0.8</text>
<text x="120.0" y="562.8" font-size="35.9">Observed SIF (mW/m²/nm/sr)</text>
<text transform="translate(29.8,481.0) rotate(-90)" font-size="35.9">Predicted SIF (mW/m²/nm/sr)</text>
<text x="31.1" y="31.5" font-size="39.3">(a) Excluded topography-related features</text>
<text x="336.6" y="393.0" font-size="36">R² = 0.85</text>
<text x="336.6" y="430.6" font-size="36">RMSE = 0.062</text>
<rect x="599.8" y="47.4" width="21.2" height="434.3" fill="url(#cg)" stroke="#000" stroke-width="1.5"/>
<line x1="621.0" y1="372.9" x2="627.0" y2="372.9" stroke="#000" stroke-width="1.5"/>
<text x="632.5" y="384.9" font-size="33">10</text>
<line x1="621.0" y1="260.8" x2="627.0" y2="260.8" stroke="#000" stroke-width="1.5"/>
<text x="632.5" y="272.8" font-size="33">20</text>
<line x1="621.0" y1="148.8" x2="627.0" y2="148.8" stroke="#000" stroke-width="1.5"/>
<text x="632.5" y="160.8" font-size="33">30</text>
<g clip-path="url(#clipb)">
<circle cx="1139.7" cy="79.6" r="4.4" fill="#555aa7"/>
<circle cx="1072.0" cy="91.1" r="4.4" fill="#555aa7"/>
<circle cx="1077.3" cy="118.8" r="4.4" fill="#555aa7"/>
<circle cx="1003.3" cy="190.4" r="4.4" fill="#555aa7"/>
<circle cx="1023.8" cy="224.1" r="4.4" fill="#555aa7"/>
<circle cx="1034.0" cy="224.9" r="4.4" fill="#555aa7"/>
<circle cx="965.8" cy="247.2" r="4.4" fill="#555aa7"/>
<circle cx="977.3" cy="241.8" r="4.4" fill="#555aa7"/>
<circle cx="1074.2" cy="261.1" r="4.4" fill="#555aa7"/>
<circle cx="1028.7" cy="299.2" r="4.4" fill="#555aa7"/>
<circle cx="1037.0" cy="295.4" r="4.4" fill="#555aa7"/>
<circle cx="1066.7" cy="299.8" r="4.4" fill="#555aa7"/>
<circle cx="1002.1" cy="327.1" r="4.4" fill="#555aa7"/>
<circle cx="1039.7" cy="321.6" r="4.4" fill="#555aa7"/>
<circle cx="1058.5" cy="327.4" r="4.4" fill="#555aa7"/>
<circle cx="1064.0" cy="324.3" r="4.4" fill="#555aa7"/>
<circle cx="1051.7" cy="335.1" r="4.4" fill="#555aa7"/>
<circle cx="918.4" cy="224.5" r="4.4" fill="#555aa7"/>
<circle cx="927.8" cy="260.2" r="4.4" fill="#555aa7"/>
<circle cx="852.6" cy="281.7" r="4.4" fill="#555aa7"/>
<circle cx="880.1" cy="290.0" r="4.4" fill="#555aa7"/>
<circle cx="874.4" cy="307.4" r="4.4" fill="#555aa7"/>
<circle cx="858.6" cy="331.7" r="4.4" fill="#555aa7"/>
<circle cx="821.0" cy="297.4" r="4.4" fill="#555aa7"/>
<circle cx="982.0" cy="363.4" r="4.4" fill="#555aa7"/>
<circle cx="883.0" cy="464.8" r="4.4" fill="#555aa7"/>
<circle cx="897.0" cy="473.5" r="4.4" fill="#555aa7"/>
<circle cx="1044.4" cy="278.0" r="4.4" fill="#496aaf"/>
<circle cx="1025.0" cy="291.0" r="4.4" fill="#496aaf"/>
<circle cx="922.8" cy="301.9" r="4.4" fill="#496aaf"/>
<circle cx="959.5" cy="275.2" r="4.4" fill="#496aaf"/>
<circle cx="895.6" cy="435.1" r="4.4" fill="#496aaf"/>
<circle cx="850.4" cy="466.4" r="4.4" fill="#496aaf"/>
<circle cx="855.6" cy="471.6" r="4.4" fill="#496aaf"/>
<circle cx="860.0" cy="467.2" r="4.4" fill="#496aaf"/>
<circle cx="1046.3" cy="223.2" r="4.4" fill="#4273b3"/>
<circle cx="1073.3" cy="219.5" r="4.4" fill="#4273b3"/>
<circle cx="1061.3" cy="227.9" r="4.4" fill="#4273b3"/>
<circle cx="1052.3" cy="257.3" r="4.4" fill="#4273b3"/>
<circle cx="1043.8" cy="261.5" r="4.4" fill="#4273b3"/>
<circle cx="986.0" cy="267.0" r="4.4" fill="#4273b3"/>
<circle cx="947.1" cy="297.4" r="4.4" fill="#4273b3"/>
<circle cx="916.5" cy="315.4" r="4.4" fill="#4273b3"/>
<circle cx="910.5" cy="322.2" r="4.4" fill="#4273b3"/>
<circle cx="882.6" cy="347.3" r="4.4" fill="#4273b3"/>
<circle cx="866.1" cy="360.5" r="4.4" fill="#4273b3"/>
<circle cx="868.9" cy="364.1" r="4.4" fill="#4273b3"/>
<circle cx="954.2" cy="352.0" r="4.4" fill="#4273b3"/>
<circle cx="957.8" cy="360.1" r="4.4" fill="#4273b3"/>
<circle cx="965.6" cy="367.2" r="4.4" fill="#4273b3"/>
<circle cx="959.2" cy="373.5" r="4.4" fill="#4273b3"/>
<circle cx="936.6" cy="388.8" r="4.4" fill="#4273b3"/>
<circle cx="937.6" cy="393.7" r="4.4" fill="#4273b3"/>
<circle cx="895.0" cy="424.9" r="4.4" fill="#4273b3"/>
<circle cx="905.4" cy="423.7" r="4.4" fill="#4273b3"/>
<circle cx="807.0" cy="437.2" r="4.4" fill="#4273b3"/>
<circle cx="854.7" cy="385.4" r="4.4" fill="#4273b3"/>
<circle cx="867.2" cy="456.8" r="4.4" fill="#4273b3"/>
<circle cx="940.0" cy="391.3" r="4.4" fill="#4273b3"/>
<circle cx="906.8" cy="321.7" r="4.4" fill="#4273b3"/>
<circle cx="1045.7" cy="236.1" r="4.4" fill="#3387bc"/>
<circle cx="1043.3" cy="240.6" r="4.4" fill="#3387bc"/>
<circle cx="1037.9" cy="248.1" r="4.4" fill="#3387bc"/>
<circle cx="1049.6" cy="246.5" r="4.4" fill="#3387bc"/>
<circle cx="1054.8" cy="248.7" r="4.4" fill="#3387bc"/>
<circle cx="1052.5" cy="249.2" r="4.4" fill="#3387bc"/>
<circle cx="1033.8" cy="263.8" r="4.4" fill="#3387bc"/>
<circle cx="1034.8" cy="267.5" r="4.4" fill="#3387bc"/>
<circle cx="1020.2" cy="272.1" r="4.4" fill="#3387bc"/>
<circle cx="1023.3" cy="273.1" r="4.4" fill="#3387bc"/>
<circle cx="1019.2" cy="275.2" r="4.4" fill="#3387bc"/>
<circle cx="1022.9" cy="280.8" r="4.4" fill="#3387bc"/>
<circle cx="1012.5" cy="285.0" r="4.4" fill="#3387bc"/>
<circle cx="993.1" cy="272.1" r="4.4" fill="#3387bc"/>
<circle cx="991.0" cy="274.2" r="4.4" fill="#3387bc"/>
<circle cx="992.8" cy="272.4" r="4.4" fill="#3387bc"/>
<circle cx="978.0" cy="279.8" r="4.4" fill="#3387bc"/>
<circle cx="960.5" cy="283.3" r="4.4" fill="#3387bc"/>
<circle cx="964.2" cy="287.5" r="4.4" fill="#3387bc"/>
<circle cx="974.1" cy="321.1" r="4.4" fill="#3387bc"/>
<circle cx="913.2" cy="331.2" r="4.4" fill="#3387bc"/>
<circle cx="887.0" cy="354.8" r="4.4" fill="#3387bc"/>
<circle cx="942.5" cy="370.7" r="4.4" fill="#3387bc"/>
<circle cx="941.9" cy="368.5" r="4.4" fill="#3387bc"/>
<circle cx="945.1" cy="365.3" r="4.4" fill="#3387bc"/>
<circle cx="919.5" cy="401.0" r="4.4" fill="#3387bc"/>
<circle cx="896.6" cy="417.1" r="4.4" fill="#3387bc"/>
<circle cx="856.5" cy="389.7" r="4.4" fill="#3387bc"/>
<circle cx="833.9" cy="471.6" r="4.4" fill="#3387bc"/>
<circle cx="1020.1" cy="248.6" r="4.4" fill="#49a2b2"/>
<circle cx="1027.8" cy="248.6" r="4.4" fill="#49a2b2"/>
<circle cx="1019.2" cy="251.2" r="4.4" fill="#49a2b2"/>
<circle cx="1022.3" cy="253.3" r="4.4" fill="#49a2b2"/>
<circle cx="1017.0" cy="258.5" r="4.4" fill="#49a2b2"/>
<circle cx="1015.0" cy="262.7" r="4.4" fill="#49a2b2"/>
<circle cx="1022.3" cy="259.6" r="4.4" fill="#49a2b2"/>
<circle cx="1019.2" cy="261.7" r="4.4" fill="#49a2b2"/>
<circle cx="1004.6" cy="285.6" r="4.4" fill="#49a2b2"/>
<circle cx="1002.5" cy="272.1" r="4.4" fill="#49a2b2"/>
<circle cx="1004.6" cy="275.2" r="4.4" fill="#49a2b2"/>
<circle cx="966.0" cy="290.6" r="4.4" fill="#49a2b2"/>
<circle cx="965.3" cy="295.1" r="4.4" fill="#49a2b2"/>
<circle cx="963.5" cy="298.5" r="4.4" fill="#49a2b2"/>
<circle cx="964.2" cy="304.1" r="4.4" fill="#49a2b2"/>
<circle cx="947.5" cy="309.8" r="4.4" fill="#49a2b2"/>
<circle cx="907.5" cy="338.0" r="4.4" fill="#49a2b2"/>
<circle cx="905.3" cy="342.5" r="4.4" fill="#49a2b2"/>
<circle cx="874.8" cy="369.6" r="4.4" fill="#49a2b2"/>
<circle cx="877.7" cy="372.1" r="4.4" fill="#49a2b2"/>
<circle cx="939.1" cy="360.5" r="4.4" fill="#49a2b2"/>
<circle cx="944.7" cy="366.2" r="4.4" fill="#49a2b2"/>
<circle cx="914.2" cy="399.5" r="4.4" fill="#49a2b2"/>
<circle cx="907.7" cy="398.4" r="4.4" fill="#49a2b2"/>
<circle cx="917.4" cy="393.1" r="4.4" fill="#49a2b2"/>
<circle cx="816.5" cy="431.6" r="4.4" fill="#49a2b2"/>
<circle cx="853.0" cy="395.2" r="4.4" fill="#49a2b2"/>
<circle cx="866.5" cy="440.7" r="4.4" fill="#49a2b2"/>
<circle cx="856.1" cy="448.1" r="4.4" fill="#49a2b2"/>
<circle cx="833.0" cy="468.1" r="4.4" fill="#49a2b2"/>
<circle cx="905.0" cy="340.0" r="4.4" fill="#49a2b2"/>
<circle cx="983.3" cy="311.6" r="4.4" fill="#62bda7"/>
<circle cx="914.4" cy="333.0" r="4.4" fill="#6bc4a5"/>
<circle cx="975.2" cy="301.5" r="4.4" fill="#6bc4a5"/>
<circle cx="983.1" cy="299.6" r="4.4" fill="#6bc4a5"/>
<circle cx="987.6" cy="294.0" r="4.4" fill="#6bc4a5"/>
<circle cx="989.9" cy="289.5" r="4.4" fill="#6bc4a5"/>
<circle cx="974.1" cy="309.8" r="4.4" fill="#6bc4a5"/>
<circle cx="967.3" cy="314.3" r="4.4" fill="#6bc4a5"/>
<circle cx="970.7" cy="317.7" r="4.4" fill="#6bc4a5"/>
<circle cx="929.0" cy="326.7" r="4.4" fill="#6bc4a5"/>
<circle cx="922.2" cy="333.5" r="4.4" fill="#6bc4a5"/>
<circle cx="932.3" cy="334.6" r="4.4" fill="#6bc4a5"/>
<circle cx="875.6" cy="376.4" r="4.4" fill="#6bc4a5"/>
<circle cx="925.9" cy="381.3" r="4.4" fill="#6bc4a5"/>
<circle cx="928.0" cy="382.4" r="4.4" fill="#6bc4a5"/>
<circle cx="846.9" cy="404.7" r="4.4" fill="#6bc4a5"/>
<circle cx="876.4" cy="428.2" r="4.4" fill="#6bc4a5"/>
<circle cx="941.9" cy="345.4" r="4.4" fill="#6bc4a5"/>
<circle cx="942.9" cy="351.2" r="4.4" fill="#6bc4a5"/>
<circle cx="941.0" cy="358.8" r="4.4" fill="#6bc4a5"/>
<circle cx="977.3" cy="307.2" r="4.4" fill="#6bc4a5"/>
<circle cx="981.1" cy="297.6" r="4.4" fill="#6bc4a5"/>
<circle cx="937.9" cy="383.9" r="4.4" fill="#71c6a5"/>
<circle cx="981.4" cy="291.8" r="4.4" fill="#74c7a5"/>
<circle cx="936.0" cy="382.5" r="4.4" fill="#79c9a5"/>
<circle cx="985.7" cy="312.9" r="4.4" fill="#79c9a5"/>
<circle cx="963.6" cy="308.3" r="4.4" fill="#7ecca5"/>
<circle cx="920.1" cy="381.3" r="4.4" fill="#81cda5"/>
<circle cx="912.6" cy="399.2" r="4.4" fill="#84cea5"/>
<circle cx="932.1" cy="368.4" r="4.4" fill="#8cd1a4"/>
<circle cx="913.4" cy="334.5" r="4.4" fill="#8fd2a4"/>
<circle cx="917.9" cy="384.7" r="4.4" fill="#8fd2a4"/>
<circle cx="916.2" cy="342.0" r="4.4" fill="#8fd2a4"/>
<circle cx="900.5" cy="346.1" r="4.4" fill="#91d3a4"/>
<circle cx="926.5" cy="389.6" r="4.4" fill="#99d6a4"/>
<circle cx="910.1" cy="346.4" r="4.4" fill="#99d6a4"/>
<circle cx="909.1" cy="345.7" r="4.4" fill="#a2d9a4"/>
<circle cx="892.0" cy="360.3" r="4.4" fill="#a2d9a4"/>
<circle cx="926.2" cy="333.8" r="4.4" fill="#a2d9a4"/>
<circle cx="920.3" cy="385.7" r="4.4" fill="#a2d9a4"/>
<circle cx="914.7" cy="386.1" r="4.4" fill="#a4daa4"/>
<circle cx="944.7" cy="322.2" r="4.4" fill="#a4daa4"/>
<circle cx="951.5" cy="324.4" r="4.4" fill="#a4daa4"/>
<circle cx="958.3" cy="327.8" r="4.4" fill="#a4daa4"/>
<circle cx="899.6" cy="353.8" r="4.4" fill="#a4daa4"/>
<circle cx="888.4" cy="363.3" r="4.4" fill="#a4daa4"/>
<circle cx="921.6" cy="384.5" r="4.4" fill="#a4daa4"/>
<circle cx="883.3" cy="416.0" r="4.4" fill="#a4daa4"/>
<circle cx="951.5" cy="330.1" r="4.4" fill="#a4daa4"/>
<circle cx="907.6" cy="402.6" r="4.4" fill="#a4daa4"/>
<circle cx="947.6" cy="326.4" r="4.4" fill="#a7dba4"/>
<circle cx="925.0" cy="388.3" r="4.4" fill="#a7dba4"/>
<circle cx="965.2" cy="308.9" r="4.4" fill="#a7dba4"/>
<circle cx="921.2" cy="330.2" r="4.4" fill="#aadca4"/>
<circle cx="907.2" cy="345.7" r="4.4" fill="#aadca4"/>
<circle cx="928.9" cy="378.9" r="4.4" fill="#aadca4"/>
<circle cx="930.5" cy="378.5" r="4.4" fill="#acdda4"/>
<circle cx="952.3" cy="321.2" r="4.4" fill="#aedea3"/>
<circle cx="920.9" cy="335.6" r="4.4" fill="#b1dfa3"/>
<circle cx="892.0" cy="360.6" r="4.4" fill="#b1dfa3"/>
<circle cx="882.3" cy="372.0" r="4.4" fill="#b3e0a2"/>
<circle cx="911.0" cy="399.8" r="4.4" fill="#b3e0a2"/>
<circle cx="947.8" cy="337.4" r="4.4" fill="#b5e1a2"/>
<circle cx="935.8" cy="325.2" r="4.4" fill="#bae3a1"/>
<circle cx="923.5" cy="344.0" r="4.4" fill="#bae3a1"/>
<circle cx="941.1" cy="350.8" r="4.4" fill="#bfe5a0"/>
<circle cx="900.7" cy="365.7" r="4.4" fill="#c1e6a0"/>
<circle cx="869.0" cy="377.6" r="4.4" fill="#c3e79f"/>
<circle cx="879.6" cy="379.6" r="4.4" fill="#c6e89f"/>
<circle cx="899.1" cy="359.6" r="4.4" fill="#c6e89f"/>
<circle cx="895.8" cy="367.8" r="4.4" fill="#caea9e"/>
<circle cx="914.6" cy="350.7" r="4.4" fill="#caea9e"/>
<circle cx="902.9" cy="394.6" r="4.4" fill="#cdeb9d"/>
<circle cx="943.9" cy="337.4" r="4.4" fill="#cdeb9d"/>
<circle cx="919.2" cy="372.0" r="4.4" fill="#cdeb9d"/>
<circle cx="914.2" cy="394.1" r="4.4" fill="#cfec9d"/>
<circle cx="919.7" cy="374.4" r="4.4" fill="#d1ed9c"/>
<circle cx="869.4" cy="387.2" r="4.4" fill="#d1ed9c"/>
<circle cx="922.9" cy="367.5" r="4.4" fill="#d1ed9c"/>
<circle cx="903.6" cy="346.5" r="4.4" fill="#d6ee9b"/>
<circle cx="870.4" cy="382.5" r="4.4" fill="#d6ee9b"/>
<circle cx="812.4" cy="440.7" r="4.4" fill="#d6ee9b"/>
<circle cx="906.2" cy="392.4" r="4.4" fill="#d8ef9b"/>
<circle cx="922.4" cy="362.8" r="4.4" fill="#d8ef9b"/>
<circle cx="942.5" cy="333.5" r="4.4" fill="#daf09a"/>
<circle cx="949.3" cy="336.8" r="4.4" fill="#daf09a"/>
<circle cx="929.1" cy="363.2" r="4.4" fill="#daf09a"/>
<circle cx="914.0" cy="375.2" r="4.4" fill="#daf09a"/>
<circle cx="900.5" cy="392.0" r="4.4" fill="#daf09a"/>
<circle cx="887.8" cy="377.3" r="4.4" fill="#ddf19a"/>
<circle cx="907.9" cy="363.4" r="4.4" fill="#dff299"/>
<circle cx="907.8" cy="363.3" r="4.4" fill="#dff299"/>
<circle cx="914.3" cy="365.4" r="4.4" fill="#e1f399"/>
<circle cx="898.7" cy="370.3" r="4.4" fill="#e1f399"/>
<circle cx="840.1" cy="441.6" r="4.4" fill="#e1f399"/>
<circle cx="909.9" cy="381.8" r="4.4" fill="#e1f399"/>
<circle cx="909.3" cy="359.1" r="4.4" fill="#e4f498"/>
<circle cx="918.3" cy="356.6" r="4.4" fill="#e4f498"/>
<circle cx="839.6" cy="450.2" r="4.4" fill="#e4f498"/>
<circle cx="923.3" cy="360.7" r="4.4" fill="#e4f498"/>
<circle cx="807.2" cy="444.6" r="4.4" fill="#e4f498"/>
<circle cx="886.3" cy="374.4" r="4.4" fill="#e6f598"/>
<circle cx="802.3" cy="480.4" r="4.4" fill="#e6f598"/>
<circle cx="827.4" cy="462.9" r="4.4" fill="#e6f598"/>
<circle cx="899.5" cy="393.3" r="4.4" fill="#e7f59a"/>
<circle cx="907.6" cy="362.3" r="4.4" fill="#e8f69b"/>
<circle cx="885.4" cy="376.8" r="4.4" fill="#e8f69b"/>
<circle cx="910.0" cy="360.1" r="4.4" fill="#e8f69b"/>
<circle cx="894.8" cy="399.2" r="4.4" fill="#e8f69b"/>
<circle cx="895.6" cy="371.8" r="4.4" fill="#e9f69d"/>
<circle cx="919.4" cy="372.3" r="4.4" fill="#e9f69d"/>
<circle cx="897.3" cy="371.3" r="4.4" fill="#e9f69d"/>
<circle cx="905.3" cy="364.7" r="4.4" fill="#e9f69d"/>
<circle cx="910.7" cy="368.2" r="4.4" fill="#eaf79e"/>
<circle cx="900.7" cy="390.7" r="4.4" fill="#ebf7a0"/>
<circle cx="883.6" cy="380.3" r="4.4" fill="#ebf7a0"/>
<circle cx="793.7" cy="465.3" r="4.4" fill="#ebf7a0"/>
<circle cx="879.6" cy="384.3" r="4.4" fill="#ecf7a1"/>
<circle cx="829.9" cy="432.1" r="4.4" fill="#ecf7a1"/>
<circle cx="833.0" cy="456.6" r="4.4" fill="#ecf7a1"/>
<circle cx="890.4" cy="405.5" r="4.4" fill="#ecf7a1"/>
<circle cx="905.9" cy="378.9" r="4.4" fill="#edf8a3"/>
<circle cx="837.9" cy="441.4" r="4.4" fill="#edf8a3"/>
<circle cx="909.4" cy="373.7" r="4.4" fill="#edf8a3"/>
<circle cx="895.2" cy="393.9" r="4.4" fill="#edf8a3"/>
<circle cx="886.2" cy="400.7" r="4.4" fill="#edf8a3"/>
<circle cx="832.7" cy="431.3" r="4.4" fill="#eef8a4"/>
<circle cx="806.6" cy="468.9" r="4.4" fill="#eef8a4"/>
<circle cx="899.7" cy="382.0" r="4.4" fill="#eef8a4"/>
<circle cx="819.3" cy="470.5" r="4.4" fill="#eef8a4"/>
<circle cx="901.0" cy="370.7" r="4.4" fill="#eef8a4"/>
<circle cx="886.3" cy="409.1" r="4.4" fill="#eef8a4"/>
<circle cx="818.0" cy="462.1" r="4.4" fill="#eef8a4"/>
<circle cx="860.7" cy="394.3" r="4.4" fill="#eef8a4"/>
<circle cx="810.2" cy="448.2" r="4.4" fill="#eef8a4"/>
<circle cx="871.3" cy="431.5" r="4.4" fill="#eff9a6"/>
<circle cx="824.0" cy="431.5" r="4.4" fill="#f0f9a7"/>
<circle cx="919.0" cy="362.8" r="4.4" fill="#f0f9a7"/>
<circle cx="816.0" cy="474.0" r="4.4" fill="#f0f9a7"/>
<circle cx="909.0" cy="363.6" r="4.4" fill="#f0f9a7"/>
<circle cx="832.0" cy="450.4" r="4.4" fill="#f1f9a9"/>
<circle cx="884.2" cy="407.5" r="4.4" fill="#f1f9a9"/>
<circle cx="837.3" cy="450.6" r="4.4" fill="#f1f9a9"/>
<circle cx="836.4" cy="441.3" r="4.4" fill="#f1f9a9"/>
<circle cx="879.1" cy="387.5" r="4.4" fill="#f1f9a9"/>
<circle cx="882.0" cy="410.4" r="4.4" fill="#f2faaa"/>
<circle cx="923.0" cy="356.4" r="4.4" fill="#f2faaa"/>
<circle cx="808.8" cy="449.2" r="4.4" fill="#f2faaa"/>
<circle cx="806.0" cy="469.7" r="4.4" fill="#f2faaa"/>
<circle cx="821.6" cy="456.5" r="4.4" fill="#f3faac"/>
<circle cx="805.6" cy="463.1" r="4.4" fill="#f3faac"/>
<circle cx="897.0" cy="385.7" r="4.4" fill="#f3faac"/>
<circle cx="818.5" cy="437.9" r="4.4" fill="#f4faad"/>
<circle cx="894.6" cy="389.3" r="4.4" fill="#f4faad"/>
<circle cx="878.7" cy="421.5" r="4.4" fill="#f4faad"/>
<circle cx="899.2" cy="389.2" r="4.4" fill="#f4faad"/>
<circle cx="802.7" cy="458.1" r="4.4" fill="#f4faad"/>
<circle cx="920.2" cy="360.1" r="4.4" fill="#f5fbaf"/>
<circle cx="829.3" cy="451.9" r="4.4" fill="#f5fbaf"/>
<circle cx="833.4" cy="438.3" r="4.4" fill="#f5fbaf"/>
<circle cx="800.5" cy="464.0" r="4.4" fill="#f6fbb0"/>
<circle cx="834.4" cy="449.9" r="4.4" fill="#f6fbb0"/>
<circle cx="887.5" cy="386.1" r="4.4" fill="#f7fcb2"/>
<circle cx="818.5" cy="444.0" r="4.4" fill="#f7fcb2"/>
<circle cx="807.1" cy="459.0" r="4.4" fill="#f7fcb2"/>
<circle cx="835.1" cy="441.0" r="4.4" fill="#f7fcb2"/>
<circle cx="879.4" cy="387.1" r="4.4" fill="#f8fcb4"/>
<circle cx="819.3" cy="468.6" r="4.4" fill="#f8fcb4"/>
<circle cx="800.7" cy="456.6" r="4.4" fill="#f9fcb5"/>
<circle cx="815.1" cy="455.2" r="4.4" fill="#f9fcb5"/>
<circle cx="892.8" cy="385.4" r="4.4" fill="#f9fcb5"/>
<circle cx="912.7" cy="368.6" r="4.4" fill="#f9fcb5"/>
<circle cx="892.7" cy="390.2" r="4.4" fill="#f9fcb5"/>
<circle cx="890.1" cy="382.0" r="4.4" fill="#fafdb7"/>
<circle cx="863.2" cy="399.5" r="4.4" fill="#fafdb7"/>
<circle cx="897.7" cy="387.2" r="4.4" fill="#fafdb7"/>
<circle cx="895.6" cy="390.7" r="4.4" fill="#fafdb7"/>
<circle cx="824.5" cy="456.6" r="4.4" fill="#fafdb7"/>
<circle cx="813.9" cy="458.8" r="4.4" fill="#fbfdb8"/>
<circle cx="810.5" cy="459.4" r="4.4" fill="#fbfdb8"/>
<circle cx="825.7" cy="448.3" r="4.4" fill="#fbfdb8"/>
<circle cx="876.0" cy="411.2" r="4.4" fill="#fbfdb8"/>
<circle cx="900.0" cy="378.8" r="4.4" fill="#fcfeba"/>
<circle cx="833.6" cy="449.9" r="4.4" fill="#fcfeba"/>
<circle cx="818.4" cy="456.5" r="4.4" fill="#fdfebb"/>
<circle cx="816.3" cy="464.6" r="4.4" fill="#fdfebb"/>
<circle cx="820.2" cy="456.4" r="4.4" fill="#fdfebb"/>
<circle cx="821.1" cy="461.2" r="4.4" fill="#fdfebb"/>
<circle cx="887.7" cy="394.5" r="4.4" fill="#fdfebb"/>
<circle cx="884.0" cy="402.8" r="4.4" fill="#fdfebb"/>
<circle cx="828.2" cy="447.8" r="4.4" fill="#fefebd"/>
<circle cx="876.7" cy="412.5" r="4.4" fill="#fefebd"/>
<circle cx="897.1" cy="383.8" r="4.4" fill="#ffffbe"/>
<circle cx="863.4" cy="402.2" r="4.4" fill="#ffffbe"/>
<circle cx="886.0" cy="399.0" r="4.4" fill="#fffebe"/>
<circle cx="851.9" cy="443.4" r="4.4" fill="#fffebe"/>
<circle cx="824.5" cy="446.7" r="4.4" fill="#fffebe"/>
<circle cx="807.8" cy="458.4" r="4.4" fill="#fffebe"/>
<circle cx="807.3" cy="462.4" r="4.4" fill="#fffebe"/>
<circle cx="879.8" cy="393.2" r="4.4" fill="#fffdbc"/>
<circle cx="868.2" cy="420.7" r="4.4" fill="#fffcba"/>
<circle cx="882.9" cy="391.3" r="4.4" fill="#fffbb8"/>
<circle cx="877.2" cy="397.3" r="4.4" fill="#fffbb8"/>
<circle cx="830.3" cy="428.9" r="4.4" fill="#fffbb8"/>
<circle cx="819.9" cy="446.0" r="4.4" fill="#fffbb8"/>
<circle cx="868.7" cy="400.3" r="4.4" fill="#fffab6"/>
<circle cx="860.0" cy="404.5" r="4.4" fill="#fffab6"/>
<circle cx="823.8" cy="443.8" r="4.4" fill="#fff8b4"/>
<circle cx="826.5" cy="434.1" r="4.4" fill="#fff7b2"/>
<circle cx="857.6" cy="433.9" r="4.4" fill="#fff6b0"/>
<circle cx="892.8" cy="383.6" r="4.4" fill="#fff6b0"/>
<circle cx="819.8" cy="450.4" r="4.4" fill="#fff5ae"/>
<circle cx="887.8" cy="391.7" r="4.4" fill="#fff3ac"/>
<circle cx="864.1" cy="426.4" r="4.4" fill="#fff3ac"/>
<circle cx="835.2" cy="447.0" r="4.4" fill="#fff3ac"/>
<circle cx="878.0" cy="396.3" r="4.4" fill="#fff1a8"/>
<circle cx="848.7" cy="415.0" r="4.4" fill="#fff1a8"/>
<circle cx="869.5" cy="411.5" r="4.4" fill="#fff0a6"/>
<circle cx="869.6" cy="418.7" r="4.4" fill="#fff0a6"/>
<circle cx="873.6" cy="403.7" r="4.4" fill="#fff0a6"/>
<circle cx="826.9" cy="435.8" r="4.4" fill="#feefa3"/>
<circle cx="876.0" cy="405.4" r="4.4" fill="#feeb9d"/>
<circle cx="869.8" cy="410.9" r="4.4" fill="#fee999"/>
<circle cx="864.6" cy="410.6" r="4.4" fill="#fee999"/>
<circle cx="865.1" cy="409.5" r="4.4" fill="#fee999"/>
<circle cx="861.7" cy="413.4" r="4.4" fill="#fee695"/>
<circle cx="854.2" cy="412.8" r="4.4" fill="#fee695"/>
<circle cx="859.3" cy="429.0" r="4.4" fill="#fee491"/>
<circle cx="873.4" cy="402.8" r="4.4" fill="#fee491"/>
<circle cx="865.9" cy="408.5" r="4.4" fill="#fee18d"/>
<circle cx="861.9" cy="412.6" r="4.4" fill="#fee18d"/>
<circle cx="860.3" cy="425.4" r="4.4" fill="#fedc88"/>
<circle cx="866.6" cy="411.9" r="4.4" fill="#feda86"/>
<circle cx="828.3" cy="441.5" r="4.4" fill="#fed683"/>
<circle cx="853.9" cy="416.3" r="4.4" fill="#fed27f"/>
<circle cx="864.9" cy="411.1" r="4.4" fill="#fed27f"/>
<circle cx="857.1" cy="416.2" r="4.4" fill="#feca79"/>
<circle cx="863.5" cy="419.1" r="4.4" fill="#feca79"/>
<circle cx="851.0" cy="433.0" r="4.4" fill="#fec877"/>
<circle cx="845.9" cy="437.8" r="4.4" fill="#fdc776"/>
<circle cx="862.0" cy="415.0" r="4.4" fill="#fdc776"/>
<circle cx="831.5" cy="435.9" r="4.4" fill="#fdbd6d"/>
<circle cx="856.8" cy="418.5" r="4.4" fill="#fdb768"/>
<circle cx="859.3" cy="419.7" r="4.4" fill="#fdb567"/>
<circle cx="842.8" cy="437.9" r="4.4" fill="#fdb163"/>
<circle cx="842.5" cy="439.1" r="4.4" fill="#fdb163"/>
<circle cx="849.6" cy="422.4" r="4.4" fill="#fdad60"/>
<circle cx="854.3" cy="424.3" r="4.4" fill="#fcaa5f"/>
<circle cx="852.4" cy="429.2" r="4.4" fill="#fca85e"/>
<circle cx="831.2" cy="439.1" r="4.4" fill="#fca85e"/>
<circle cx="815.0" cy="471.0" r="4.4" fill="#fba05b"/>
<circle cx="846.2" cy="432.9" r="4.4" fill="#fba05b"/>
<circle cx="803.4" cy="474.7" r="4.4" fill="#fa9857"/>
<circle cx="854.1" cy="422.9" r="4.4" fill="#fa9857"/>
<circle cx="836.5" cy="444.2" r="4.4" fill="#fa9656"/>
<circle cx="798.4" cy="467.3" r="4.4" fill="#f98e52"/>
<circle cx="830.8" cy="437.9" r="4.4" fill="#f88c51"/>
<circle cx="826.1" cy="459.8" r="4.4" fill="#f88950"/>
<circle cx="824.1" cy="438.9" r="4.4" fill="#f88950"/>
<circle cx="815.2" cy="445.5" r="4.4" fill="#f8864f"/>
<circle cx="836.2" cy="434.4" r="4.4" fill="#f8864f"/>
<circle cx="819.2" cy="466.9" r="4.4" fill="#f8864f"/>
<circle cx="841.5" cy="437.8" r="4.4" fill="#f7844e"/>
<circle cx="833.3" cy="448.4" r="4.4" fill="#f67f4b"/>
<circle cx="841.5" cy="435.8" r="4.4" fill="#f67f4b"/>
<circle cx="826.0" cy="440.1" r="4.4" fill="#f57748"/>
<circle cx="817.5" cy="444.4" r="4.4" fill="#f57748"/>
<circle cx="845.5" cy="429.5" r="4.4" fill="#f57748"/>
<circle cx="807.3" cy="474.8" r="4.4" fill="#f57547"/>
<circle cx="804.8" cy="460.5" r="4.4" fill="#f47044"/>
<circle cx="827.3" cy="452.8" r="4.4" fill="#f36b43"/>
<circle cx="838.7" cy="434.1" r="4.4" fill="#f36b43"/>
<circle cx="812.3" cy="450.5" r="4.4" fill="#f36b43"/>
<circle cx="829.8" cy="446.2" r="4.4" fill="#f06744"/>
<circle cx="804.4" cy="470.3" r="4.4" fill="#ef6645"/>
<circle cx="816.3" cy="446.3" r="4.4" fill="#ed6246"/>
<circle cx="826.0" cy="450.1" r="4.4" fill="#ed6246"/>
<circle cx="825.3" cy="443.2" r="4.4" fill="#ed6246"/>
<circle cx="835.1" cy="436.6" r="4.4" fill="#e95c47"/>
<circle cx="806.5" cy="460.8" r="4.4" fill="#e3534a"/>
<circle cx="817.8" cy="449.4" r="4.4" fill="#e1504b"/>
<circle cx="811.0" cy="459.2" r="4.4" fill="#df4e4b"/>
<circle cx="824.5" cy="449.6" r="4.4" fill="#de4c4b"/>
<circle cx="819.8" cy="452.9" r="4.4" fill="#dd4a4c"/>
<circle cx="813.9" cy="468.7" r="4.4" fill="#dc484c"/>
<circle cx="811.4" cy="465.6" r="4.4" fill="#da464d"/>
<circle cx="837.1" cy="436.5" r="4.4" fill="#da464d"/>
<circle cx="814.2" cy="461.9" r="4.4" fill="#d8434e"/>
<circle cx="833.6" cy="445.1" r="4.4" fill="#d8434e"/>
<circle cx="817.8" cy="465.3" r="4.4" fill="#d8434e"/>
<circle cx="800.0" cy="465.4" r="4.4" fill="#d7414e"/>
<circle cx="826.5" cy="439.1" r="4.4" fill="#d7414e"/>
<circle cx="811.1" cy="452.7" r="4.4" fill="#d63f4f"/>
<circle cx="801.7" cy="462.7" r="4.4" fill="#d43d4f"/>
<circle cx="810.6" cy="470.6" r="4.4" fill="#d43d4f"/>
<circle cx="830.0" cy="452.4" r="4.4" fill="#d43d4f"/>
<circle cx="817.0" cy="445.5" r="4.4" fill="#d43d4f"/>
<circle cx="817.0" cy="466.6" r="4.4" fill="#d23a4e"/>
<circle cx="798.0" cy="473.8" r="4.4" fill="#d0384e"/>
<circle cx="823.5" cy="442.1" r="4.4" fill="#d0384e"/>
<circle cx="831.6" cy="447.9" r="4.4" fill="#d0384e"/>
<circle cx="835.2" cy="441.0" r="4.4" fill="#d0384e"/>
<circle cx="799.0" cy="474.4" r="4.4" fill="#d0384e"/>
<circle cx="812.3" cy="470.5" r="4.4" fill="#d0384e"/>
<circle cx="822.6" cy="443.8" r="4.4" fill="#cd364d"/>
<circle cx="817.7" cy="463.5" r="4.4" fill="#cb334d"/>
<circle cx="800.8" cy="475.7" r="4.4" fill="#cb334d"/>
<circle cx="798.9" cy="472.4" r="4.4" fill="#cb334d"/>
<circle cx="810.5" cy="452.9" r="4.4" fill="#c9314c"/>
<circle cx="830.7" cy="448.3" r="4.4" fill="#c9314c"/>
<circle cx="810.3" cy="453.4" r="4.4" fill="#c9314c"/>
<circle cx="822.2" cy="459.9" r="4.4" fill="#c9314c"/>
<circle cx="818.5" cy="446.4" r="4.4" fill="#c9314c"/>
<circle cx="832.5" cy="443.4" r="4.4" fill="#c72e4c"/>
<circle cx="813.1" cy="468.5" r="4.4" fill="#c72e4c"/>
<circle cx="803.6" cy="460.5" r="4.4" fill="#c52c4b"/>
<circle cx="803.2" cy="463.6" r="4.4" fill="#c52c4b"/>
<circle cx="809.6" cy="464.7" r="4.4" fill="#c52c4b"/>
<circle cx="811.8" cy="465.0" r="4.4" fill="#c52c4b"/>
<circle cx="818.3" cy="449.5" r="4.4" fill="#c52c4b"/>
<circle cx="823.8" cy="453.2" r="4.4" fill="#c52c4b"/>
<circle cx="824.1" cy="455.9" r="4.4" fill="#c52c4b"/>
<circle cx="801.4" cy="476.6" r="4.4" fill="#c32a4b"/>
<circle cx="806.0" cy="467.0" r="4.4" fill="#c32a4b"/>
<circle cx="830.5" cy="443.2" r="4.4" fill="#c32a4b"/>
<circle cx="809.7" cy="472.2" r="4.4" fill="#c1274a"/>
<circle cx="803.2" cy="473.0" r="4.4" fill="#c1274a"/>
<circle cx="830.7" cy="444.3" r="4.4" fill="#c1274a"/>
<circle cx="808.3" cy="465.8" r="4.4" fill="#c1274a"/>
<circle cx="828.6" cy="452.1" r="4.4" fill="#c1274a"/>
<circle cx="809.8" cy="455.1" r="4.4" fill="#c1274a"/>
<circle cx="824.9" cy="444.7" r="4.4" fill="#be254a"/>
<circle cx="820.4" cy="448.6" r="4.4" fill="#be254a"/>
<circle cx="809.4" cy="457.0" r="4.4" fill="#be254a"/>
<circle cx="805.5" cy="465.8" r="4.4" fill="#be254a"/>
<circle cx="821.9" cy="454.9" r="4.4" fill="#be254a"/>
<circle cx="828.7" cy="447.2" r="4.4" fill="#be254a"/>
<circle cx="827.1" cy="448.2" r="4.4" fill="#be254a"/>
<circle cx="832.5" cy="441.4" r="4.4" fill="#bc2249"/>
<circle cx="815.3" cy="455.7" r="4.4" fill="#ba2049"/>
<circle cx="803.7" cy="468.8" r="4.4" fill="#ba2049"/>
<circle cx="826.1" cy="447.1" r="4.4" fill="#b61b48"/>
<circle cx="825.0" cy="445.6" r="4.4" fill="#b41947"/>
<circle cx="821.8" cy="452.6" r="4.4" fill="#b41947"/>
<circle cx="816.2" cy="454.0" r="4.4" fill="#b41947"/>
<circle cx="819.4" cy="453.3" r="4.4" fill="#b11747"/>
<circle cx="818.8" cy="452.5" r="4.4" fill="#b11747"/>
<circle cx="816.6" cy="463.3" r="4.4" fill="#b11747"/>
<circle cx="828.2" cy="444.4" r="4.4" fill="#af1446"/>
<circle cx="815.5" cy="453.0" r="4.4" fill="#af1446"/>
<circle cx="823.8" cy="451.5" r="4.4" fill="#ad1246"/>
<circle cx="810.1" cy="464.5" r="4.4" fill="#ad1246"/>
<circle cx="802.4" cy="471.7" r="4.4" fill="#a90d45"/>
<line x1="787.5" y1="483.1" x2="1254.0" y2="48.4" stroke="#ff4500" stroke-width="2.3"/>
</g>
<rect x="787.5" y="48.8" width="466.5" height="434.1" fill="none" stroke="#000" stroke-width="1.4"/>
<line x1="797.4" y1="482.9" x2="797.4" y2="488.9" stroke="#000" stroke-width="1.5"/>
<line x1="781.5" y1="473.9" x2="787.5" y2="473.9" stroke="#000" stroke-width="1.5"/>
<text x="797.4" y="517.8" font-size="33" text-anchor="middle">0.0</text>
<text x="777.0" y="485.9" font-size="33" text-anchor="end">0.0</text>
<line x1="901.0" y1="482.9" x2="901.0" y2="488.9" stroke="#000" stroke-width="1.5"/>
<line x1="781.5" y1="377.4" x2="787.5" y2="377.4" stroke="#000" stroke-width="1.5"/>
<text x="901.0" y="517.8" font-size="33" text-anchor="middle">0.2</text>
<text x="777.0" y="389.4" font-size="33" text-anchor="end">0.2</text>
<line x1="1004.5" y1="482.9" x2="1004.5" y2="488.9" stroke="#000" stroke-width="1.5"/>
<line x1="781.5" y1="280.9" x2="787.5" y2="280.9" stroke="#000" stroke-width="1.5"/>
<text x="1004.5" y="517.8" font-size="33" text-anchor="middle">0.4</text>
<text x="777.0" y="292.9" font-size="33" text-anchor="end">0.4</text>
<line x1="1108.1" y1="482.9" x2="1108.1" y2="488.9" stroke="#000" stroke-width="1.5"/>
<line x1="781.5" y1="184.4" x2="787.5" y2="184.4" stroke="#000" stroke-width="1.5"/>
<text x="1108.1" y="517.8" font-size="33" text-anchor="middle">0.6</text>
<text x="777.0" y="196.4" font-size="33" text-anchor="end">0.6</text>
<line x1="1211.6" y1="482.9" x2="1211.6" y2="488.9" stroke="#000" stroke-width="1.5"/>
<line x1="781.5" y1="87.9" x2="787.5" y2="87.9" stroke="#000" stroke-width="1.5"/>
<text x="1211.6" y="517.8" font-size="33" text-anchor="middle">0.8</text>
<text x="777.0" y="99.9" font-size="33" text-anchor="end">0.8</text>
<text x="804.0" y="563.5" font-size="35.9">Observed SIF (mW/m²/nm/sr)</text>
<text transform="translate(714.0,482.8) rotate(-90)" font-size="35.9">Predicted SIF (mW/m²/nm/sr)</text>
<text x="892.1" y="31.5" font-size="39.3">(b) All features</text>
<text x="1020.3" y="394.1" font-size="36">R² = 0.88</text>
<text x="1020.3" y="431.5" font-size="36">RMSE = 0.057</text>
<rect x="1283.4" y="48.9" width="21.0" height="434.0" fill="url(#cg)" stroke="#000" stroke-width="1.5"/>
<line x1="1304.4" y1="381.7" x2="1310.4" y2="381.7" stroke="#000" stroke-width="1.5"/>
<text x="1315.9" y="393.7" font-size="33">10</text>
<line x1="1304.4" y1="274.2" x2="1310.4" y2="274.2" stroke="#000" stroke-width="1.5"/>
<text x="1315.9" y="286.2" font-size="33">20</text>
<line x1="1304.4" y1="165.9" x2="1310.4" y2="165.9" stroke="#000" stroke-width="1.5"/>
<text x="1315.9" y="177.9" font-size="33">30</text>
<line x1="1304.4" y1="58.1" x2="1310.4" y2="58.1" stroke="#000" stroke-width="1.5"/>
<text x="1315.9" y="70.1" font-size="33">40</text>
</svg></body></html>
